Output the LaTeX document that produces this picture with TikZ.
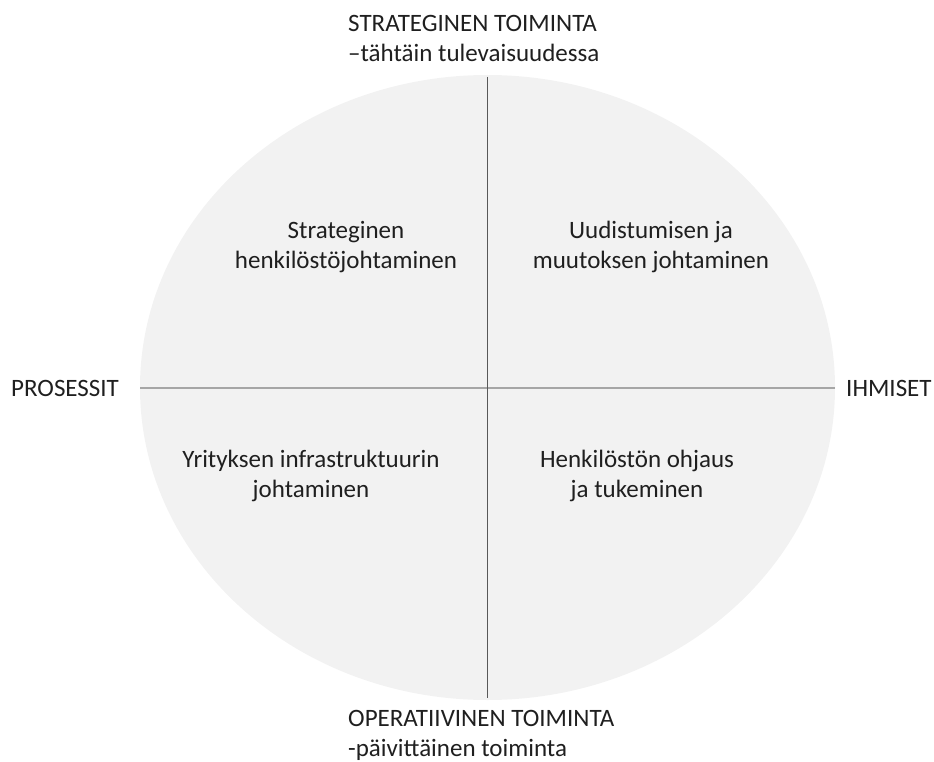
\documentclass[tikz,border=0pt]{standalone}
\usepackage{fontspec}
\setmainfont{Carlito}
\usetikzlibrary{shapes.geometric}
\begin{document}
\begin{tikzpicture}[x=1pt,y=-1pt,
  lbl/.style={font=\fontsize{25}{30}\selectfont, align=center, text=black!88, inner sep=0pt, anchor=base},
  axis/.style={draw=black!35, line width=1.4pt},
  vaxis/.style={draw=black!65, line width=0.8pt}]
\useasboundingbox (0,0) rectangle (934,762);
\node[ellipse, fill=black!5, minimum width=695, minimum height=625, inner sep=0pt] (disc) at (487.5,387.5) {};
\coordinate (L) at (140,388);
\coordinate (R) at (835,388);
\coordinate (T) at (487.5,77);
\coordinate (B) at (487.5,698);
\draw[axis] (L) -- (R);
\draw[vaxis] (T) -- (B);
\node[lbl, align=left, anchor=base west] (top) at (348,62) {STRATEGINEN TOIMINTA\\–tähtäin tulevaisuudessa};
\node[lbl, align=left, anchor=base west] (bot) at (348,756) {OPERATIIVINEN TOIMINTA\\-päivittäinen toiminta};
\node[lbl, anchor=base west] (left) at (11,396) {PROSESSIT};
\node[lbl, anchor=base west] (right) at (846,396) {IHMISET};
\node[lbl] (q1) at (346,268) {Strateginen\\henkilöstöjohtaminen};
\node[lbl] (q2) at (651,268) {Uudistumisen ja\\muutoksen johtaminen};
\node[lbl] (q3) at (311,497) {Yrityksen infrastruktuurin\\johtaminen};
\node[lbl] (q4) at (637,497) {Henkilöstön ohjaus\\ja tukeminen};
\end{tikzpicture}
\end{document}
